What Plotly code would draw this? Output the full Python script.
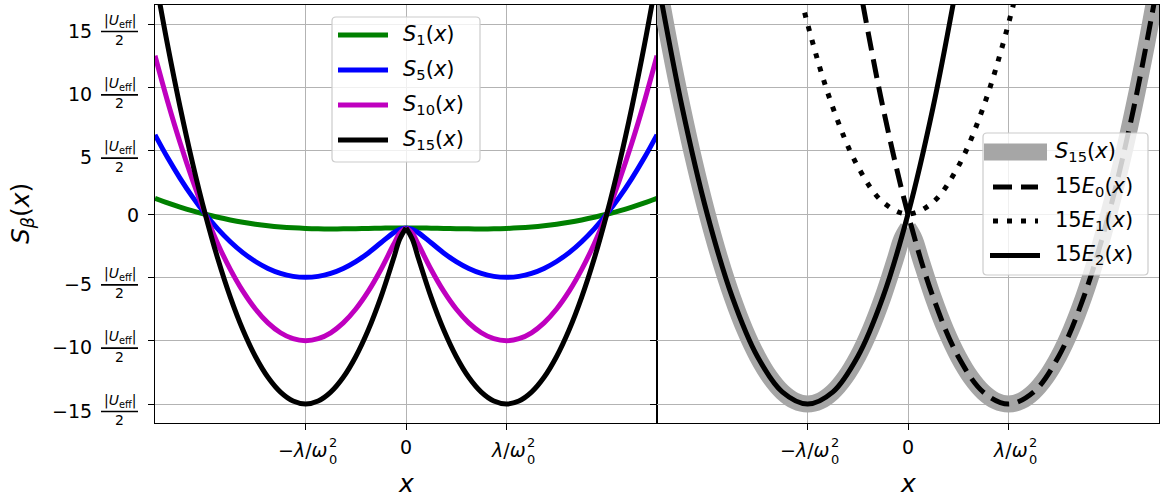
import plotly.graph_objects as go

# ---------------- data ----------------
S_X = [-2.5, -2.375, -2.25, -2.125, -2.0, -1.875, -1.75, -1.625, -1.5, -1.375, -1.25, -1.125, -1.0, -0.875,
       -0.75, -0.625, -0.5, -0.375, -0.25, -0.125, -0.0625, 0.0,
       0.0625, 0.125, 0.25, 0.375, 0.5, 0.625, 0.75, 0.875, 1.0, 1.125, 1.25, 1.375, 1.5, 1.625, 1.75,
       1.875, 2.0, 2.125, 2.25, 2.375, 2.5]
S1 = [1.243, 0.882, 0.551, 0.251, -0.018, -0.258, -0.468, -0.649, -0.801, -0.925, -1.023, -1.095, -1.143, -1.170,
      -1.179, -1.173, -1.158, -1.137, -1.118, -1.104, -1.100, -1.099,
      -1.100, -1.104, -1.118, -1.137, -1.158, -1.173, -1.179, -1.170, -1.143, -1.095, -1.023, -0.925, -0.801,
      -0.649, -0.468, -0.258, -0.018, 0.251, 0.551, 0.882, 1.243]
S5 = [6.250, 4.453, 2.813, 1.328, 0.000, -1.172, -2.188, -3.047, -3.750, -4.297, -4.688, -4.922, -5.000, -4.922,
      -4.688, -4.299, -3.757, -3.071, -2.273, -1.486, -1.205, -1.099,
      -1.205, -1.486, -2.273, -3.071, -3.757, -4.299, -4.688, -4.922, -5.000, -4.922, -4.688, -4.297, -3.750,
      -3.047, -2.188, -1.172, 0.000, 1.328, 2.813, 4.453, 6.250]
S10 = [12.500, 8.906, 5.625, 2.656, 0.000, -2.344, -4.375, -6.094, -7.500, -8.594, -9.375, -9.844, -10.000, -9.844,
       -9.375, -8.594, -7.500, -6.094, -4.382, -2.429, -1.525, -1.099,
       -1.525, -2.429, -4.382, -6.094, -7.500, -8.594, -9.375, -9.844, -10.000, -9.844, -9.375, -8.594, -7.500,
       -6.094, -4.375, -2.344, 0.000, 2.656, 5.625, 8.906, 12.500]
S15 = [18.750, 13.359, 8.438, 3.984, 0.000, -3.516, -6.563, -9.141, -11.250, -12.891, -14.063, -14.766, -15.000,
       -14.766, -14.063, -12.891, -11.250, -9.141, -6.563, -3.539, -1.979, -1.099,
       -1.979, -3.539, -6.563, -9.141, -11.250, -12.891, -14.063, -14.766, -15.000, -14.766, -14.063, -12.891,
       -11.250, -9.141, -6.563, -3.516, 0.000, 3.984, 8.438, 13.359, 18.750]

E0_X = [-0.5, -0.25, 0.0, 0.25, 0.5, 0.75, 1.0, 1.25, 1.5, 1.75, 2.0, 2.25, 2.5]
E0_15 = [18.75, 8.4375, 0.0, -6.5625, -11.25, -14.0625, -15.0, -14.0625, -11.25, -6.5625, 0.0, 8.4375, 18.75]
E1_X = [-1.25, -1.0, -0.75, -0.5, -0.25, 0.0, 0.25, 0.5, 0.75, 1.0, 1.25]
E1_15 = [23.4375, 15.0, 8.4375, 3.75, 0.9375, 0.0, 0.9375, 3.75, 8.4375, 15.0, 23.4375]
E2_X = [-2.5, -2.25, -2.0, -1.75, -1.5, -1.25, -1.0, -0.75, -0.5, -0.25, 0.0, 0.25, 0.5]
E2_15 = [18.75, 8.4375, 0.0, -6.5625, -11.25, -14.0625, -15.0, -14.0625, -11.25, -6.5625, 0.0, 8.4375, 18.75]

X_TICKS = [-1, 0, 1]
Y_TICKS = [15, 10, 5, 0, -5, -10, -15]
Y_TICK_NUMS = ["15", "10", "5", "0", "\u22125", "\u221210", "\u221215"]

LEFT_NAMES = ["<i>S</i><sub>1</sub>(<i>x</i>)", "<i>S</i><sub>5</sub>(<i>x</i>)",
              "<i>S</i><sub>10</sub>(<i>x</i>)", "<i>S</i><sub>15</sub>(<i>x</i>)"]
RIGHT_NAMES = ["<i>S</i><sub>15</sub>(<i>x</i>)", "15<i>E</i><sub>0</sub>(<i>x</i>)",
               "15<i>E</i><sub>1</sub>(<i>x</i>)", "15<i>E</i><sub>2</sub>(<i>x</i>)"]

# ---------------- styling ----------------
FONT = "DejaVu Sans"
W, H = 1160, 498
ML, MR, MT, MB = 155, 1, 5, 75
PW, PH = W - ML - MR, H - MT - MB
LW = 5
GREY = "#a6a6a6"
COLORS = ["#008000", "#0000ff", "#bf00bf", "#000000"]
DASH = "19px,9px"
DOT = "5px,9px"
TICK_FS = 19
FRAC_FS = 14
LEG_FS = 21


def px(xp):
    return (xp - ML) / PW


def py(yp):
    return (H - MB - yp) / PH


fig = go.Figure()

mid = S_X.index(0.0)
halves = [slice(0, mid + 1), slice(mid, None)]
for ys, col, nm in zip([S1, S5, S10, S15], COLORS, LEFT_NAMES):
    for h in halves:
        fig.add_trace(go.Scatter(x=S_X[h], y=ys[h], mode="lines", name=nm, showlegend=False,
                                 line=dict(color=col, width=LW, shape="spline", smoothing=1),
                                 xaxis="x", yaxis="y", hoverinfo="skip"))

for h in halves:
    fig.add_trace(go.Scatter(x=S_X[h], y=S15[h], mode="lines", name=RIGHT_NAMES[0], showlegend=False,
                             line=dict(color=GREY, width=17, shape="spline"),
                             xaxis="x2", yaxis="y2", hoverinfo="skip"))
fig.add_trace(go.Scatter(x=E0_X, y=E0_15, mode="lines", name=RIGHT_NAMES[1], showlegend=False,
                         line=dict(color="black", width=LW, dash=DASH, shape="spline"),
                         xaxis="x2", yaxis="y2", hoverinfo="skip"))
fig.add_trace(go.Scatter(x=E1_X, y=E1_15, mode="lines", name=RIGHT_NAMES[2], showlegend=False,
                         line=dict(color="black", width=LW, dash=DOT, shape="spline"),
                         xaxis="x2", yaxis="y2", hoverinfo="skip"))
fig.add_trace(go.Scatter(x=E2_X, y=E2_15, mode="lines", name=RIGHT_NAMES[3], showlegend=False,
                         line=dict(color="black", width=LW, shape="spline"),
                         xaxis="x2", yaxis="y2", hoverinfo="skip"))

ax = dict(showgrid=True, gridcolor="#b3b3b3", gridwidth=1.4, zeroline=False,
          showline=True, linecolor="black", linewidth=1.3, mirror=True,
          ticks="outside", ticklen=6, tickwidth=1.3, tickcolor="black", showticklabels=False)

fig.update_layout(
    width=W, height=H, margin=dict(l=ML, r=MR, t=MT, b=MB),
    paper_bgcolor="white", plot_bgcolor="white",
    font=dict(family=FONT, size=TICK_FS, color="black"),
    xaxis=dict(domain=[0, 0.5], range=[-2.5, 2.5], tickvals=X_TICKS, anchor="y", **ax),
    xaxis2=dict(domain=[0.5, 1], range=[-2.5, 2.5], tickvals=X_TICKS, anchor="y2", **ax),
    yaxis=dict(range=[-16.5, 16.5], tickvals=Y_TICKS, anchor="x", **ax),
    yaxis2=dict(range=[-16.5, 16.5], tickvals=Y_TICKS, anchor="x2", matches="y", **ax),
    showlegend=False,
)

ann = []
shapes = []

# y tick labels with fractions
for v, t in zip(Y_TICKS, Y_TICK_NUMS):
    if v == 0:
        ann.append(dict(text=t, xref="paper", x=0, xanchor="right", xshift=-14,
                        yref="y", y=v, yanchor="middle", yshift=-1, showarrow=False,
                        font=dict(size=TICK_FS)))
        continue
    ann.append(dict(text=t, xref="paper", x=0, xanchor="right", xshift=-61,
                    yref="y", y=v, yanchor="middle", yshift=-6.5, showarrow=False,
                    font=dict(size=TICK_FS)))
    ann.append(dict(text="|<i>U</i><sub>eff</sub>|", xref="paper", x=0, xanchor="center", xshift=-35.5,
                    yref="y", y=v, yanchor="middle", yshift=3.5, showarrow=False,
                    font=dict(size=FRAC_FS)))
    ann.append(dict(text="2", xref="paper", x=0, xanchor="center", xshift=-35.5,
                    yref="y", y=v, yanchor="middle", yshift=-16, showarrow=False,
                    font=dict(size=FRAC_FS)))
    shapes.append(dict(type="line", xref="paper", x0=px(101), x1=px(138),
                       yref="y", ysizemode="pixel", yanchor=v, y0=-7.5, y1=-7.5,
                       line=dict(color="black", width=1.6)))

# x tick labels (stacked sub/superscripts) and axis titles
for xr in ["x", "x2"]:
    for v in X_TICKS:
        if v == 0:
            ann.append(dict(text="0", xref=xr, x=0, xanchor="center", yref="paper", y=0,
                            yanchor="middle", yshift=-24, showarrow=False, font=dict(size=TICK_FS)))
            continue
        main = "\u2212<i>\u03bb</i>/<i>\u03c9</i>" if v < 0 else "<i>\u03bb</i>/<i>\u03c9</i>"
        off = 23 if v < 0 else 21
        ann.append(dict(text=main, xref=xr, x=v, xanchor="right", xshift=off, yref="paper", y=0,
                        yanchor="middle", yshift=-27, showarrow=False, borderpad=0,
                        font=dict(size=TICK_FS)))
        ann.append(dict(text="2", xref=xr, x=v, xanchor="left", xshift=off - 1, yref="paper", y=0,
                        yanchor="middle", yshift=-19, showarrow=False, borderpad=0,
                        font=dict(size=13)))
        ann.append(dict(text="0", xref=xr, x=v, xanchor="left", xshift=off - 1, yref="paper", y=0,
                        yanchor="middle", yshift=-36, showarrow=False, borderpad=0,
                        font=dict(size=13)))
    ann.append(dict(text="<i>x</i>", xref=xr + " domain", x=0.5, xanchor="center", yref="paper", y=0,
                    yanchor="middle", yshift=-60, showarrow=False, font=dict(size=25)))

ann.append(dict(text="<i>S</i><sub><i>\u03b2</i></sub>(<i>x</i>)", textangle=-90, xref="paper", x=px(22),
                xanchor="center", yref="paper", y=py(214), yanchor="middle", showarrow=False,
                font=dict(size=25)))


# custom legends
def rrect(x0, y0, x1, y1, r=4):
    pts = [("M", x0 + r, y0), ("L", x1 - r, y0), ("Q", x1, y0, x1, y0 + r), ("L", x1, y1 - r),
           ("Q", x1, y1, x1 - r, y1), ("L", x0 + r, y1), ("Q", x0, y1, x0, y1 - r), ("L", x0, y0 + r),
           ("Q", x0, y0, x0 + r, y0)]
    s = ""
    for p in pts:
        cmd = p[0]
        coords = p[1:]
        seg = []
        for i in range(0, len(coords), 2):
            seg.append(f"{px(coords[i]):.5f},{py(coords[i + 1]):.5f}")
        s += cmd + " " + " ".join(seg) + " "
    return s + "Z"


shapes.append(dict(type="path", xref="paper", yref="paper", path=rrect(332, 17, 480, 162), layer="above",
                   fillcolor="rgba(255,255,255,0.8)", line=dict(color="#cccccc", width=1.2)))
shapes.append(dict(type="path", xref="paper", yref="paper", path=rrect(983, 133, 1148, 275), layer="above",
                   fillcolor="rgba(255,255,255,0.8)", line=dict(color="#cccccc", width=1.2)))

left_rows = [35, 70, 105, 140]
for yy, col, nm in zip(left_rows, COLORS, LEFT_NAMES):
    shapes.append(dict(type="line", xref="paper", yref="paper", x0=px(338), x1=px(388), y0=py(yy), y1=py(yy),
                       layer="above", line=dict(color=col, width=LW)))
    ann.append(dict(text=nm, xref="paper", x=px(401), xanchor="left", yref="paper", y=py(yy),
                    yanchor="middle", showarrow=False, font=dict(size=LEG_FS)))

right_rows = [152, 187, 221, 255.5]
right_styles = [(GREY, 17, "solid", 984, 1047), ("black", LW, DASH, 993, 1038),
                ("black", LW, DOT, 993, 1038), ("black", LW, "solid", 990, 1040)]
for yy, (col, wd, ds, xa, xb), nm in zip(right_rows, right_styles, RIGHT_NAMES):
    shapes.append(dict(type="line", xref="paper", yref="paper", x0=px(xa), x1=px(xb), y0=py(yy), y1=py(yy),
                       layer="above", line=dict(color=col, width=wd, dash=ds)))
    ann.append(dict(text=nm, xref="paper", x=px(1053), xanchor="left", yref="paper", y=py(yy),
                    yanchor="middle", showarrow=False, font=dict(size=LEG_FS)))

fig.update_layout(annotations=ann, shapes=shapes)
fig.write_html("out.html")
